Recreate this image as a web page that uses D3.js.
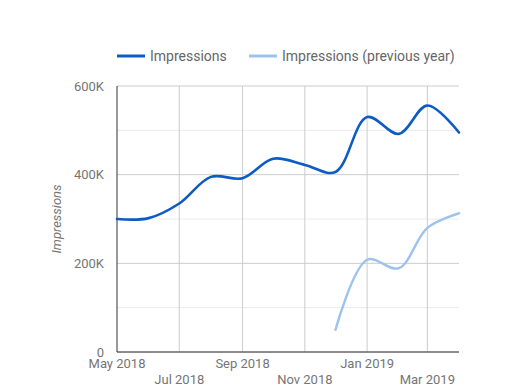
<!DOCTYPE html>
<html><head><meta charset="utf-8">
<script src="https://cdn.jsdelivr.net/npm/d3@7"></script>
<style>body{margin:0;background:#fff}svg{display:block;font-family:Roboto,"Noto Sans",sans-serif}</style>
</head><body>
<svg id="c" width="505" height="392"></svg>
<script>
const months = ["2018-05","2018-06","2018-07","2018-08","2018-09","2018-10","2018-11","2018-12","2019-01","2019-02","2019-03","2019-04"];
const impressions = [300000,302000,335000,395000,392000,436000,422000,406000,530000,492000,556000,495000];
const impressionsPrev = [null,null,null,null,null,null,null,50000,208000,189000,280000,313000];
const yTicks = [0,100000,200000,300000,400000,500000,600000];
const yLabels = ["0","","200K","","400K","","600K"];
const xTicks = ["2018-05","2018-07","2018-09","2018-11","2019-01","2019-03"];
const xLabels = ["May 2018","Jul 2018","Sep 2018","Nov 2018","Jan 2019","Mar 2019"];
const seriesNames = ["Impressions","Impressions (previous year)"];
const colors = ["#0f5bc4","#9dc2ee"];

const parse = d3.timeParse("%Y-%m");
const svg = d3.select("#c");
const m = {l:117, r:459, t:86, b:352};
const x = d3.scaleTime().domain([parse(months[0]), parse(months[months.length-1])]).range([m.l, m.r]);
const y = d3.scaleLinear().domain([0,600000]).range([m.b, m.t]);

// horizontal grid
svg.append("g").selectAll("line").data(yTicks).join("line")
  .attr("x1", m.l).attr("x2", m.r)
  .attr("y1", d=>y(d)).attr("y2", d=>y(d))
  .attr("stroke", (d,i)=> yLabels[i] ? "#cccccc" : "#ebebeb").attr("stroke-width",1);
// vertical grid
svg.append("g").selectAll("line").data(xTicks.slice(1)).join("line")
  .attr("x1", d=>x(parse(d))).attr("x2", d=>x(parse(d)))
  .attr("y1", m.t).attr("y2", m.b)
  .attr("stroke","#cccccc").attr("stroke-width",1);
// axes lines
svg.append("line").attr("x1",m.l).attr("x2",m.l).attr("y1",m.t).attr("y2",m.b).attr("stroke","#333").attr("stroke-width",1);
svg.append("line").attr("x1",m.l).attr("x2",m.r).attr("y1",m.b).attr("y2",m.b).attr("stroke","#333").attr("stroke-width",1);

// y labels
svg.append("g").selectAll("text").data(yTicks).join("text")
  .attr("x", 104).attr("y", d=>y(d)+4.5)
  .attr("text-anchor","end").attr("font-size",13).attr("fill","#757575")
  .text((d,i)=>yLabels[i]);
// x labels
svg.append("g").selectAll("text").data(xTicks).join("text")
  .attr("x", d=>x(parse(d))).attr("y",(d,i)=> i%2===0 ? 368 : 384)
  .attr("text-anchor","middle").attr("font-size",13).attr("fill","#757575")
  .text((d,i)=>xLabels[i]);
// y title
svg.append("text").attr("transform","translate(61,219) rotate(-90)")
  .attr("text-anchor","middle").attr("font-size",13).attr("font-style","italic").attr("fill","#757575")
  .text("Impressions");

const line = d3.line().defined(d=>d[1]!=null)
  .x(d=>x(parse(d[0]))).y(d=>y(d[1])).curve(d3.curveCatmullRom.alpha(0.5));
[impressionsPrev, impressions].forEach((vals,k)=>{
  const idx = 1-k;
  svg.append("path").datum(months.map((mm,i)=>[mm, vals[i]]).filter(d=>d[1]!=null))
    .attr("d", line).attr("fill","none").attr("stroke", colors[idx]).attr("stroke-width", idx===0?2.6:2.4)
    .attr("stroke-linecap","round");
});

// legend
const lg = svg.append("g");
const lx = [117, 249];
seriesNames.forEach((n,i)=>{
  lg.append("line").attr("x1",lx[i]).attr("x2",lx[i]+28).attr("y1",56).attr("y2",56)
    .attr("stroke",colors[i]).attr("stroke-width",3);
  lg.append("text").attr("x",lx[i]+33).attr("y",61).attr("font-size",14).attr("fill","#666")
    .text(n);
});
</script>
</body></html>
